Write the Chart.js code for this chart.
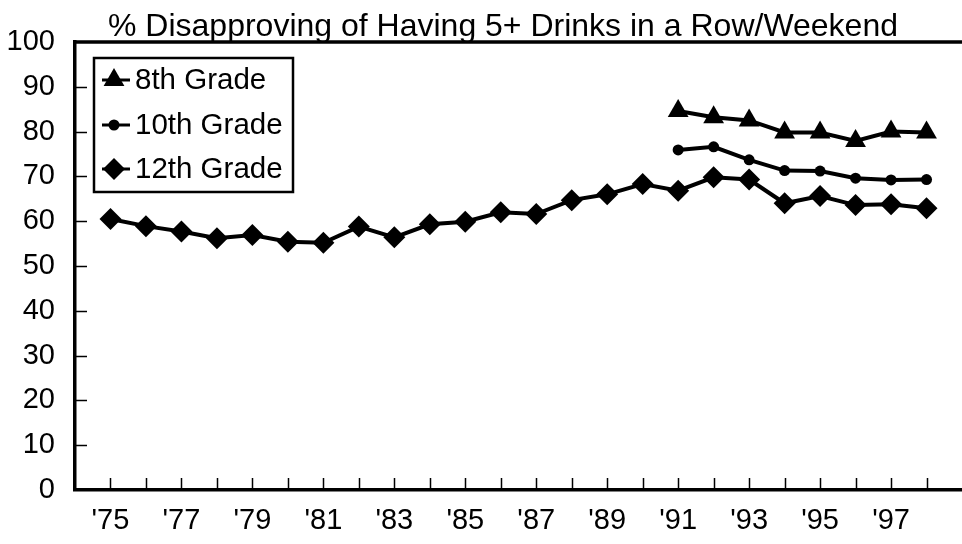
<!DOCTYPE html>
<html>
<head>
<meta charset="utf-8">
<script src="https://cdn.jsdelivr.net/npm/chart.js@4.4.1/dist/chart.umd.min.js"></script>
<style>
html,body{margin:0;padding:0;background:#fff;}
#wrap{width:962px;height:544px;position:relative;}
</style>
</head>
<body>
<div id="wrap"><canvas id="lineC"></canvas></div>
<script>
const titleText="% Disapproving of Having 5+ Drinks in a Row/Weekend";
const years=[1975,1976,1977,1978,1979,1980,1981,1982,1983,1984,1985,1986,1987,1988,1989,1990,1991,1992,1993,1994,1995,1996,1997,1998];
const lateYears=[1991,1992,1993,1994,1995,1996,1997,1998];
const grade12=[60.5,58.9,57.7,56.2,56.9,55.4,55.2,58.8,56.4,59.3,59.9,62.0,61.6,64.7,66.0,68.3,66.8,69.8,69.3,64.0,65.6,63.6,63.8,62.9];
const grade10=[75.9,76.6,73.7,71.3,71.2,69.6,69.2,69.3];
const grade8=[84.6,83.2,82.5,79.8,79.8,77.9,80.0,79.8];
const yTicks=[0,10,20,30,40,50,60,70,80,90,100];

const FONT='"Liberation Sans", Arial, sans-serif';

function pts(xs,ys){
    return xs.map((x,i)=>({x:x,y:ys[i]}));
}

// tick marks point inward in the original, plus the frame line on top
const innerTicks={
    id:"innerTicks",
    beforeDatasetsDraw(chart){
        const ctx=chart.ctx;
        const a=chart.chartArea;
        const x=chart.scales.x, y=chart.scales.y;
        ctx.save();
        ctx.strokeStyle="#000";
        ctx.lineWidth=1.5;
        ctx.beginPath();
        years.forEach(v=>{
            const px=Math.round(x.getPixelForValue(v))+0.5;
            ctx.moveTo(px,a.bottom);
            ctx.lineTo(px,a.bottom-12);
        });
        yTicks.forEach(v=>{
            if(v===0||v===100) return;
            const py=Math.round(y.getPixelForValue(v))+0.5;
            ctx.moveTo(a.left,py);
            ctx.lineTo(a.left+12,py);
        });
        ctx.stroke();
        ctx.lineWidth=3.5;
        ctx.beginPath();
        ctx.moveTo(a.left,a.top);
        ctx.lineTo(a.right,a.top);
        ctx.stroke();
        // title sits a bit right of centre, above the frame line
        ctx.fillStyle="#000";
        ctx.font="32px "+FONT;
        ctx.textAlign="center";
        ctx.textBaseline="alphabetic";
        ctx.fillText(titleText,503,36);
        ctx.restore();
    }
};

// boxed legend inside the plot, marker with a short line through it
const boxLegend={
    id:"boxLegend",
    afterDraw(chart){
        const ctx=chart.ctx;
        ctx.save();
        ctx.strokeStyle="#000";
        ctx.lineWidth=2.5;
        ctx.strokeRect(94,58,199,134);
        const rows=[80,125,169];
        chart.data.datasets.forEach((ds,i)=>{
            const yy=rows[i];
            ctx.lineWidth=3;
            ctx.beginPath();
            ctx.moveTo(102,yy);
            ctx.lineTo(130,yy);
            ctx.stroke();
            ctx.fillStyle="#000";
            Chart.helpers.drawPoint(ctx,{pointStyle:ds.pointStyle,radius:ds.pointRadius,rotation:0,borderWidth:0},114,yy);
            ctx.fillStyle="#000";
            ctx.font="29.5px "+FONT;
            ctx.textBaseline="middle";
            ctx.textAlign="left";
            ctx.fillText(ds.label,135,yy+1);
        });
        ctx.restore();
    }
};

const lineStyle={
    borderColor:"#000",
    backgroundColor:"#000",
    pointBackgroundColor:"#000",
    pointBorderColor:"#000",
    pointBorderWidth:0,
    borderWidth:4,
    tension:0,
    clip:false
};

new Chart(document.getElementById("lineC"),{
    type:"line",
    data:{
        datasets:[
            Object.assign({label:"8th Grade",data:pts(lateYears,grade8),pointStyle:"triangle",pointRadius:12},lineStyle),
            Object.assign({label:"10th Grade",data:pts(lateYears,grade10),pointStyle:"circle",pointRadius:5.5},lineStyle),
            Object.assign({label:"12th Grade",data:pts(years,grade12),pointStyle:"rectRot",pointRadius:11},lineStyle)
        ]
    },
    options:{
        responsive:true,
        maintainAspectRatio:false,
        animation:false,
        layout:{autoPadding:false,padding:{left:0,right:0,top:42,bottom:0}},
        plugins:{
            legend:{display:false},
            tooltip:{enabled:false},
            title:{display:false}
        },
        scales:{
            x:{
                type:"linear",
                min:1974,
                max:1999,
                grid:{display:false,drawTicks:false},
                border:{display:true,color:"#000",width:3.5},
                ticks:{
                    stepSize:1,
                    autoSkip:false,
                    maxRotation:0,
                    padding:14,
                    color:"#000",
                    font:{family:FONT,size:29},
                    callback:(v)=>(v%2===1&&v<1999)?"'"+String(v).slice(2):""
                },
                afterFit:(s)=>{s.height=54;s.paddingLeft=0;s.paddingRight=0;}
            },
            y:{
                min:0,
                max:100,
                grid:{display:false,drawTicks:false},
                border:{display:true,color:"#000",width:3.5},
                ticks:{
                    stepSize:10,
                    padding:20,
                    color:"#000",
                    font:{family:FONT,size:29}
                },
                afterFit:(s)=>{s.width=75;}
            }
        }
    },
    plugins:[innerTicks,boxLegend]
});
</script>
</body>
</html>
